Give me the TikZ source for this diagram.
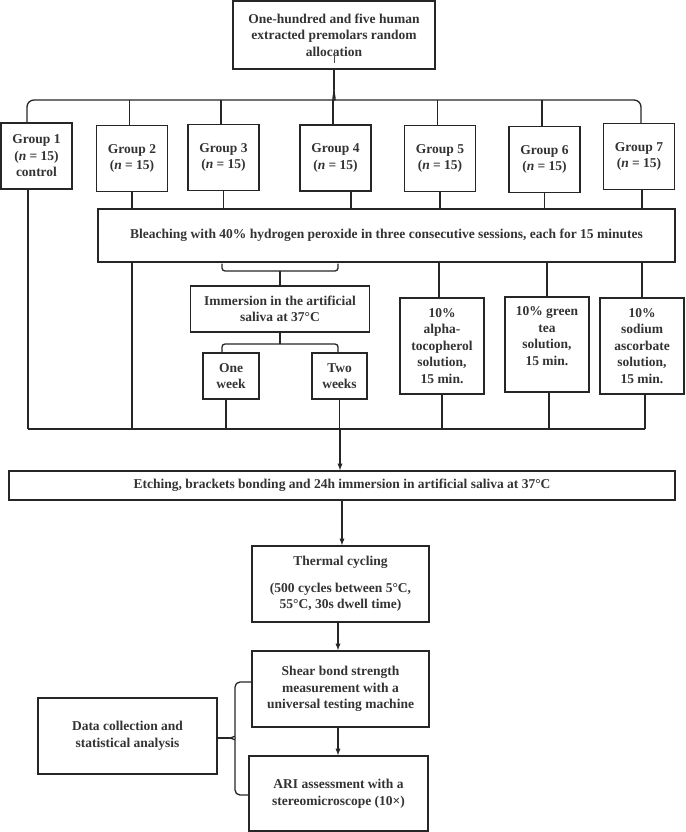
\documentclass[tikz,border=0pt]{standalone}
\usepackage{fontspec}
\setmainfont{Liberation Serif}
\usetikzlibrary{arrows}

\begin{document}
\begin{tikzpicture}[x=1pt,y=-1pt]
\tikzstyle{every node}+=[inner sep=0pt,align=center,text=black!80,font=\fontsize{13.5}{16.5}\selectfont\bfseries]
\tikzstyle{box}=[draw=black!85,line width=1.4pt]
\tikzstyle{grp}=[box,minimum width=71,minimum height=66]
\tikzstyle{line}=[draw=black!85,line width=1.3pt]
\tikzstyle{arr}=[line,-latex]
\useasboundingbox (0,0) rectangle (685,832);

% allocation
\node [box,minimum width=202,minimum height=68] (top) at (334,35) {One-hundred and five human\\extracted premolars random\\allocation};
\draw [draw=black!70,line width=0.5pt] ([yshift=7pt]top.south) -- ([yshift=19pt]top.south);

\node [grp] (g1) at (36.5,156) {Group 1\\(\textit{n} = 15)\\control};
\foreach \i/\x/\y in {2/132/158.5,3/223.5/157.5,4/335.5/158,5/440/158.5,6/544.5/159.5,7/639/156.5}
    \node [grp] (g\i) at (\x,\y) {Group \i\\(\textit{n} = 15)};

\coordinate (tip) at (334,90);
\coordinate (bus) at (334,100);
\coordinate (bl) at (27,100);
\coordinate (br) at (641,100);
\draw [line] (top.south) -- (tip);
\draw [line,rounded corners=7pt] (bl |- g1.north) -- (bl) -- ([xshift=-7pt]bus) to[out=0,in=-90] (tip);
\draw [line,rounded corners=7pt] (br |- g7.north) -- (br) -- ([xshift=7pt]bus) to[out=180,in=-90] (tip);
\foreach \i in {2,3,4,5,6}
    \draw [line] ([xshift=-2.5pt]g\i.north) -- ([xshift=-2.5pt]g\i.north |- bus);

% bleaching
\node [box,minimum width=577,minimum height=53] (bleach) at (386.5,235.5) {Bleaching with 40\% hydrogen peroxide in three consecutive sessions, each for 15 minutes};
\draw [line] (g2.south) -- (g2.south |- bleach.north);
\draw [line] (g3.south) -- (g3.south |- bleach.north);
\draw [line] ([xshift=15.5pt]g4.south) -- ([xshift=15.5pt]g4.south |- bleach.north);
\draw [line] (g5.south) -- (g5.south |- bleach.north);
\draw [line] (g6.south) -- (g6.south |- bleach.north);
\draw [line] ([xshift=3pt]g7.south) -- ([xshift=3pt]g7.south |- bleach.north);

% saliva branch
\node [box,minimum width=179,minimum height=46] (immers) at (280,309) {Immersion in the artificial\\saliva at 37°C};
\node [box,minimum width=56,minimum height=46] (onewk) at (231,376) {One\\week};
\node [box,minimum width=55,minimum height=46] (twowk) at (339.5,376) {Two\\weeks};
\coordinate (kL) at (222,271);
\coordinate (kR) at (338,271);
\draw [line,rounded corners=3pt] ([yshift=-1pt]kL |- bleach.south) -- (kL) -- (kR) -- ([yshift=-1pt]kR |- bleach.south);
\draw [line] (immers.north) -- (immers.north |- kL);
\coordinate (wL) at (222,344);
\coordinate (wR) at (338,344);
\draw [line,rounded corners=3pt] (wL |- onewk.north) -- (wL) -- (wR) -- (wR |- twowk.north);
\draw [line] (immers.south) -- (immers.south |- wL);

% solutions
\node [box,minimum width=84,minimum height=96] (alpha) at (442,346) {10\%\\alpha-\\tocopherol\\solution,\\15 min.};
\node [box,minimum width=84,minimum height=95] (green) at (547,344.5) {10\% green\\tea\\solution,\\15 min.\\\mbox{}};
\node [box,minimum width=84,minimum height=96] (sodium) at (642,346) {10\%\\sodium\\ascorbate\\solution,\\15 min.};
\draw [line] ([xshift=-3pt]alpha.north |- bleach.south) -- ([xshift=-3pt]alpha.north);
\draw [line] (green.north |- bleach.south) -- (green.north);
\draw [line] (sodium.north |- bleach.south) -- (sodium.north);

% collecting line
\coordinate (bot) at (340,429);
\draw [line] ([xshift=-8.5pt]g1.south) -- ([xshift=-8.5pt]g1.south |- bot);
\draw [line] (g2.south |- bleach.south) -- (g2.south |- bot);
\draw [line] ([xshift=-5pt]onewk.south) -- ([xshift=-5pt]onewk.south |- bot);
\draw [line] (twowk.south) -- (twowk.south |- bot);
\draw [line] (alpha.south) -- (alpha.south |- bot);
\draw [line] ([xshift=2pt]green.south) -- ([xshift=2pt]green.south |- bot);
\draw [line] ([xshift=3pt]sodium.south) -- ([xshift=3pt]sodium.south |- bot);
\draw [line] ([xshift=-8.5pt]g1.south |- bot) -- ([xshift=3pt]sodium.south |- bot);

% testing
\node [box,minimum width=666,minimum height=29] (etch) at (342,485.5) {Etching, brackets bonding and 24h immersion in artificial saliva at 37°C};
\node [box,minimum width=177,minimum height=76] (thermal) at (340.5,584) {Thermal cycling\\[10pt](500 cycles between 5°C,\\55°C, 30s dwell time)};
\node [box,minimum width=177,minimum height=76] (shear) at (340.5,689) {Shear bond strength\\measurement with a\\universal testing machine};
\node [box,minimum width=179,minimum height=75] (ari) at (338.5,793.5) {ARI assessment with a\\stereomicroscope (10×)};
\node [box,minimum width=179,minimum height=76] (data) at (127.5,736) {Data collection and\\statistical analysis};
\draw [arr] (bot) -- (bot |- etch.north);
\draw [arr] (etch.south) -- (etch.south |- thermal.north);
\draw [arr] ([xshift=-2.5pt]thermal.south) -- ([xshift=-2.5pt]thermal.south |- shear.north);
\draw [arr] ([xshift=-2.5pt]shear.south) -- ([xshift=-2.5pt]shear.south |- ari.north);

% brace to data box
\coordinate (dtip) at (229,738);
\coordinate (dmid) at (235,738);
\coordinate (dt) at (235,682);
\coordinate (db) at (235,795);
\draw [line,rounded corners=5pt] (dt -| shear.west) -- (dt) -- ([yshift=6pt]dmid) to[out=-90,in=0] (dtip);
\draw [line,rounded corners=5pt] (db -| ari.west) -- (db) -- ([yshift=-6pt]dmid) to[out=90,in=0] (dtip);
\draw [line] (data.east |- dtip) -- (dtip);
\end{tikzpicture}
\end{document}
